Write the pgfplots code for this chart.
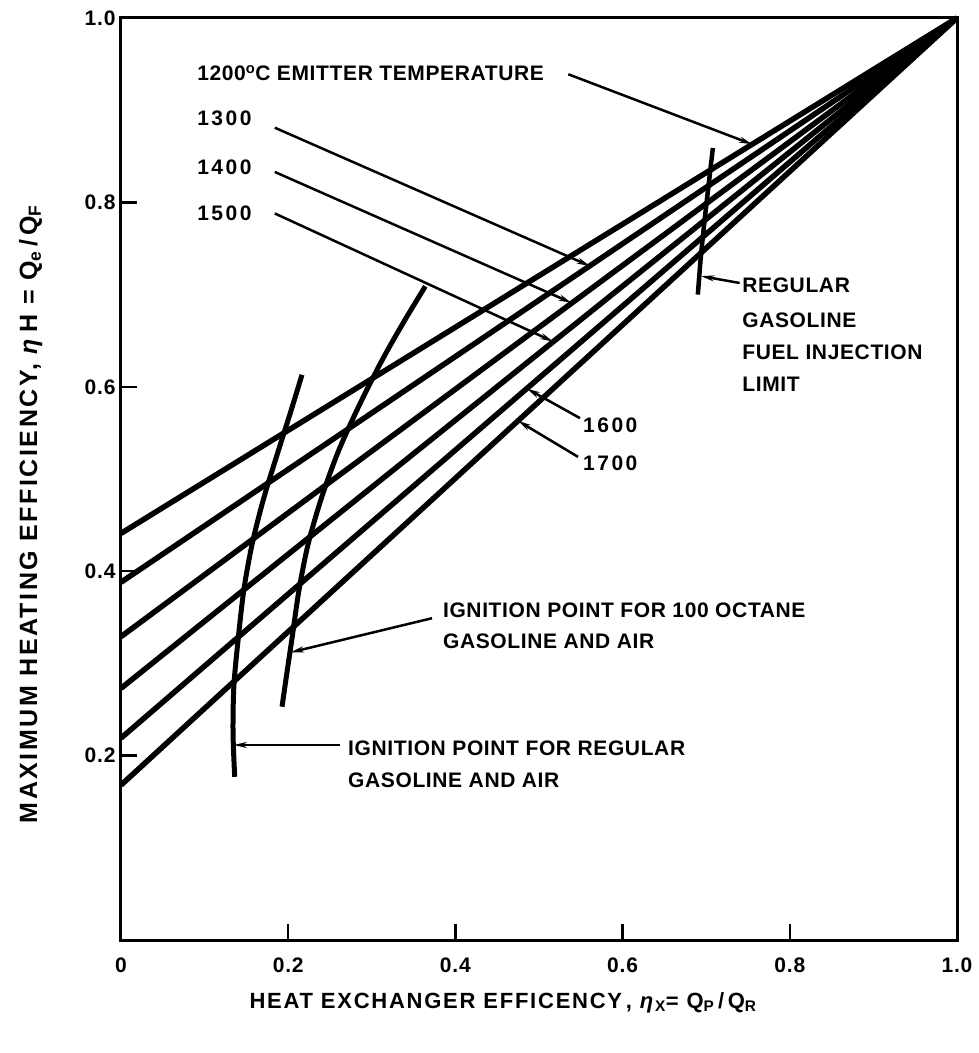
\documentclass[border=0pt]{standalone}
\usepackage{fontspec}
\setmainfont{Liberation Sans}
\newfontfamily\fA{Liberation Sans}[LetterSpace=3]
\newfontfamily\fN{Liberation Sans}[LetterSpace=12]
\newfontfamily\fX{Liberation Sans}[LetterSpace=8]
\newfontfamily\fY{Liberation Sans}[LetterSpace=10]
\newfontfamily\fT{Liberation Sans}[LetterSpace=4]
\usepackage{pgfplots}
\pgfplotsset{compat=1.18}
\usetikzlibrary{arrows.meta}
\newcommand\lab{\fA\fontsize{21}{24}\selectfont\bfseries}
\newcommand\labn{\fN\fontsize{21}{24}\selectfont\bfseries}
\newcommand\labt{\fT\fontsize{21}{24}\selectfont\bfseries}
\newcommand\labx{\fX\fontsize{22}{25}\selectfont\bfseries}
\newcommand\laby{\fY\fontsize{25}{28}\selectfont\bfseries}
\begin{document}
\begin{tikzpicture}
\useasboundingbox (-121pt,-113pt) rectangle (858pt,940pt);
\begin{axis}[
  at={(0pt,0pt)}, anchor=south west,
  width=836pt, height=922pt, scale only axis,
  xmin=0, xmax=1, ymin=0, ymax=1,
  axis line style={line width=3pt},
  tick style={line width=2.5pt, black},
  major tick length=16pt, tick align=inside,
  xtick pos=bottom, ytick pos=left,
  xtick={0,0.2,0.4,0.6,0.8,1}, xticklabels={0,0.2,0.4,0.6,0.8,1.0},
  ytick={0.2,0.4,0.6,0.8,1}, yticklabels={0.2,0.4,0.6,0.8,1.0},
  xticklabel style={font=\labt, yshift=-14pt},
  yticklabel style={font=\labt, xshift=-2pt},
  clip=false,
]
% emitter temperature lines, eta_H = a + (1-a) eta_X
\addplot[line width=5.5pt] coordinates {(0,0.441) (1,1)};
\addplot[line width=5.5pt] coordinates {(0,0.388) (1,1)};
\addplot[line width=5.5pt] coordinates {(0,0.329) (1,1)};
\addplot[line width=5.5pt] coordinates {(0,0.273) (1,1)};
\addplot[line width=5.5pt] coordinates {(0,0.219) (1,1)};
\addplot[line width=5.5pt] coordinates {(0,0.168) (1,1)};
% ignition regular
\addplot[line width=5pt, smooth] coordinates {(0.136,0.177) (0.134,0.225) (0.135,0.275) (0.140,0.325) (0.147,0.380) (0.157,0.430) (0.171,0.480) (0.188,0.530) (0.203,0.573) (0.2165,0.613)};
% ignition 100 octane
\addplot[line width=5pt, smooth] coordinates {(0.1926,0.253) (0.1985,0.290) (0.205,0.330) (0.213,0.380) (0.224,0.430) (0.240,0.480) (0.260,0.530) (0.285,0.580) (0.313,0.630) (0.338,0.670) (0.364,0.709)};
% fuel injection limit
\addplot[line width=4.5pt, smooth] coordinates {(0.690,0.700) (0.6935,0.740) (0.698,0.780) (0.703,0.820) (0.708,0.859)};

% labels
\node[anchor=west, inner sep=0pt, font=\lab] at (axis cs:0.091,0.940) {1200\textsuperscript{o}C EMITTER TEMPERATURE};
\node[anchor=west, inner sep=0pt, font=\labn] at (axis cs:0.091,0.8915) {1300};
\node[anchor=west, inner sep=0pt, font=\labn] at (axis cs:0.091,0.838) {1400};
\node[anchor=west, inner sep=0pt, font=\labn] at (axis cs:0.091,0.7885) {1500};
\node[anchor=west, inner sep=0pt, font=\labn] at (axis cs:0.5526,0.5586) {1600};
\node[anchor=west, inner sep=0pt, font=\labn] at (axis cs:0.5526,0.517) {1700};
\node[anchor=west, inner sep=0pt, font=\lab] at (axis cs:0.743,0.710) {REGULAR};
\node[anchor=west, inner sep=0pt, font=\lab] at (axis cs:0.743,0.672) {GASOLINE};
\node[anchor=west, inner sep=0pt, font=\lab] at (axis cs:0.743,0.6377) {FUEL INJECTION};
\node[anchor=west, inner sep=0pt, font=\lab] at (axis cs:0.743,0.603) {LIMIT};
\node[anchor=west, inner sep=0pt, font=\lab] at (axis cs:0.385,0.358) {IGNITION POINT FOR 100 OCTANE};
\node[anchor=west, inner sep=0pt, font=\lab] at (axis cs:0.385,0.324) {GASOLINE AND AIR};
\node[anchor=west, inner sep=0pt, font=\lab] at (axis cs:0.2715,0.208) {IGNITION POINT FOR REGULAR};
\node[anchor=west, inner sep=0pt, font=\lab] at (axis cs:0.2715,0.1735) {GASOLINE AND AIR};

% leaders
\tikzset{lead/.style={line width=2.5pt, -{Stealth[length=13pt,width=6pt]}}}
\draw[lead] (axis cs:0.535,0.939) -- (axis cs:0.755,0.863);
\draw[lead] (axis cs:0.184,0.881) -- (axis cs:0.561,0.731);
\draw[lead] (axis cs:0.184,0.833) -- (axis cs:0.539,0.691);
\draw[lead] (axis cs:0.184,0.788) -- (axis cs:0.517,0.649);
\draw[lead] (axis cs:0.549,0.566) -- (axis cs:0.4856,0.598);
\draw[lead] (axis cs:0.5467,0.524) -- (axis cs:0.475,0.563);
\draw[lead] (axis cs:0.740,0.7126) -- (axis cs:0.694,0.720);
\draw[lead] (axis cs:0.372,0.349) -- (axis cs:0.203,0.312);
\draw[lead] (axis cs:0.262,0.2115) -- (axis cs:0.135,0.2115);

% axis titles
\node[font=\labx, anchor=center] at (axis description cs:0.457,-0.068)
  {HEAT EXCHANGER EFFICENCY\,, \textit{η}\textsubscript{X}= Q\textsubscript{P}\,/\,Q\textsubscript{R}};
\node[font=\laby, anchor=center, rotate=90] at (axis description cs:-0.108,0.462)
  {MAXIMUM HEATING EFFICIENCY, \textit{η}\,H = Q\textsubscript{e}\,/\,Q\textsubscript{F}};
\end{axis}
\end{tikzpicture}
\end{document}
